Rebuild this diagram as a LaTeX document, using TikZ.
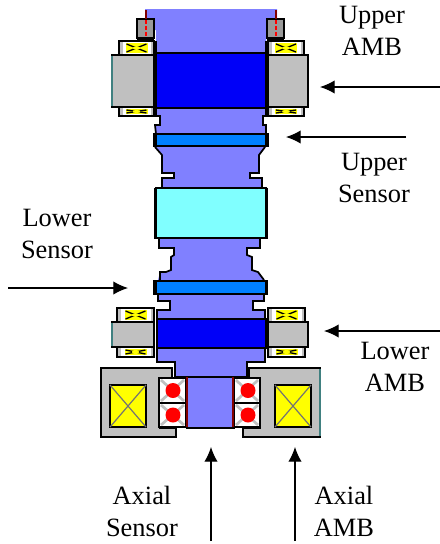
\documentclass[tikz,border=0pt]{standalone}
\usepackage{fontspec}
\setmainfont{Liberation Serif}
\usepackage{xcolor}
\usepackage{tikz}
\usetikzlibrary{arrows.meta, positioning, calc}

\definecolor{shaftblue}{HTML}{8080FF}
\definecolor{rotorblue}{HTML}{0000F8}
\definecolor{discblue}{HTML}{0080FF}
\definecolor{rotorcyan}{HTML}{80FFFF}
\definecolor{statorgray}{HTML}{C0C0C0}
\definecolor{coilyellow}{HTML}{FFFF00}
\definecolor{pinred}{HTML}{FF0000}
\definecolor{edgered}{HTML}{800000}
\definecolor{edgeteal}{HTML}{408080}

% #1,#2 = upper left corner, #3,#4 = lower right corner
\newcommand{\bearingbox}[4]{
    \draw [part, fill=white] (#1,#2) rectangle (#3,#4);
    \fill [statorgray] (#1+1,#2+1) rectangle (#1+3.5,#4-1);
    \fill [statorgray] (#3-3.5,#2+1) rectangle (#3-1,#4-1);
    \fill [coilyellow] ({(#1+#3)/2-11},#2+2) rectangle ({(#1+#3)/2+11},#4-2);
    \draw [thin part] ({(#1+#3)/2-10},#2+3) -- ({(#1+#3)/2+10},#4-3);
    \draw [thin part] ({(#1+#3)/2-10},#4-3) -- ({(#1+#3)/2+10},#2+3);
    \fill [coilyellow] ({(#1+#3)/2},{(#2+#4)/2}) ellipse (4 and 1.5);
}
% #1 = left edge, #2 = right edge, #3 = centre of the pin line
\newcommand{\pinblock}[3]{
    \draw [part, fill=statorgray!80!black] (#1,19) rectangle (#2,38);
    \fill [black] (#1,38) rectangle (#2,41);
    \draw [edgered, line width=1pt] (#3,10) -- (#3,19);
    \draw [pinred, line width=1.2pt, dash pattern=on 3pt off 1.5pt] (#3,20) -- (#3,38);
}
% #1 = left edge, #2 = right edge, #3 = top, #4 = bottom, #5 = centre of the ball
\newcommand{\ballcell}[5]{
    \draw [part, fill=white] (#1,#3) rectangle (#2,#4);
    \draw [statorgray, line width=2pt] (#1+2,#3+2) -- (#2-2,#4-2);
    \draw [statorgray, line width=2pt] (#2-2,#3+2) -- (#1+2,#4-2);
    \fill [pin] (#5,{(#3+#4)/2}) circle (7.5);
}

\begin{document}
\begin{tikzpicture}[
    x=0.75pt, y=-0.75pt,
    part/.style={draw=black, line width=1.3pt},
    thin part/.style={draw=black, line width=1pt},
    thickend/.style={fill=black},
    coilbox/.style={part, fill=coilyellow},
    pin/.style={fill=pinred},
    cross/.style={draw=black!55, line width=0.9pt},
    tag/.style={align=center, font=\fontsize{19.8}{24}\selectfont, inner sep=0pt},
    arrow/.style={line width=0.9pt, -{Latex[length=11pt, width=10pt]}}
]
\useasboundingbox (0,0) rectangle (440,544);

% Shaft
\fill [shaftblue] (145,9) -- (277,9) -- (277,30) -- (266,30) -- (266,116) -- (263,116) -- (263,125) -- (266,125)
    -- (266,147) -- (259,155) -- (259,173) -- (250,173) -- (250,178) -- (262,178) -- (262,188) -- (260,238)
    -- (260,248) -- (247,248) -- (247,255) -- (252,257) -- (252,270) -- (258,272) -- (264,280) -- (264,301)
    -- (253,301) -- (253,310) -- (265,310) -- (265,362) -- (247,362) -- (247,377) -- (233,377) -- (233,428)
    -- (188,428) -- (188,377) -- (175,377) -- (175,362) -- (157,362) -- (157,310) -- (170,310) -- (170,301)
    -- (158,301) -- (158,280) -- (160,272) -- (166,272) -- (171,270) -- (171,257) -- (174,255) -- (174,248)
    -- (159,248) -- (159,238) -- (162,188) -- (162,178) -- (174,178) -- (174,173) -- (162,173) -- (162,155)
    -- (155,147) -- (155,125) -- (160,125) -- (160,116) -- (156,116) -- (156,30) -- (145,30) -- cycle;
\draw [part] (266,41) -- (266,116) -- (263,116) -- (263,125) -- (266,125) -- (266,134);
\draw [part] (265,147) -- (259,155) -- (259,173) -- (250,173) -- (250,178) -- (262,178) -- (262,188);
\draw [part] (260,238) -- (260,248) -- (247,248) -- (247,255) -- (252,257) -- (252,270) -- (258,272) -- (264,280);
\draw [part] (264,294) -- (264,301) -- (253,301) -- (253,310) -- (265,310) -- (265,362) -- (247,362) -- (247,377);
\draw [part] (175,377) -- (175,362) -- (157,362) -- (157,310) -- (170,310) -- (170,301) -- (158,301) -- (158,294);
\draw [part] (160,280) -- (160,272) -- (166,272) -- (171,270) -- (171,257) -- (174,255) -- (174,248) -- (159,248) -- (159,238);
\draw [part] (162,188) -- (162,178) -- (174,178) -- (174,173) -- (162,173) -- (162,155) -- (155,147);
\draw [part] (156,134) -- (155,125) -- (160,125) -- (160,116) -- (156,116) -- (156,41);
\draw [part] (175,377) -- (247,377);

% Upper AMB
\pinblock{137}{154}{146}
\pinblock{267}{284}{276}
\bearingbox{119}{41}{154}{55}
\bearingbox{268}{41}{304}{55}
\bearingbox{119}{107}{154}{116}
\bearingbox{268}{107}{304}{116}
\draw [part, fill=statorgray] (112,55) rectangle (154,107);
\draw [part, fill=statorgray] (268,55) rectangle (308,107);
\draw [edgeteal, line width=0.8pt] (112,56) -- (112,106);
\draw [part, fill=rotorblue] (156,53) rectangle (266,108);

% Upper sensor
\fill [thickend] (153,133) rectangle (269,147);
\draw [part, fill=discblue] (156,134) rectangle (266,146);

% Middle rotor
\fill [thickend] (154,188) rectangle (268,239);
\draw [part, fill=rotorcyan] (156,188) rectangle (266,238);

% Lower sensor
\fill [thickend] (153,280) rectangle (268,295);
\draw [part, fill=discblue] (156,281) rectangle (266,294);

% Lower AMB
\bearingbox{117}{308}{154}{322}
\bearingbox{268}{308}{305}{322}
\bearingbox{117}{347}{154}{357}
\bearingbox{268}{347}{305}{357}
\draw [part, fill=statorgray] (112,322) rectangle (154,347);
\draw [part, fill=statorgray] (268,322) rectangle (308,347);
\draw [edgeteal, line width=1pt] (112,323) -- (112,346);
\draw [part, fill=rotorblue] (157,319) rectangle (266,348);

% Axial AMB
\draw [part, fill=statorgray] (101,368) -- (172,368) -- (172,378) -- (160,378) -- (160,428) -- (176,428) -- (176,437) -- (101,437) -- cycle;
\draw [part, fill=statorgray] (249,368) -- (320,368) -- (320,437) -- (243,437) -- (243,428) -- (260,428) -- (260,378) -- (249,378) -- cycle;
\draw [edgeteal, line width=1pt] (320,369) -- (320,436);
\draw [coilbox] (110,385) rectangle (146,427);
\draw [cross] (110,385) -- (146,427);
\draw [cross] (146,385) -- (110,427);
\draw [coilbox] (275,385) rectangle (311,427);
\draw [cross] (275,385) -- (311,427);
\draw [cross] (311,385) -- (275,427);

% Axial bearings
\ballcell{159}{186}{378}{403}{173}
\ballcell{159}{186}{403}{427}{173}
\ballcell{234}{260}{378}{403}{248}
\ballcell{234}{260}{403}{427}{248}
\draw [edgered, line width=1.3pt] (187,377) -- (187,428);
\draw [edgered, line width=1.3pt] (233,377) -- (233,428);
\draw [part] (186,428) -- (235,428);

% Labels
\node (upperamb) [tag] at (372,31) {Upper\\AMB};
\node (uppersensor) [tag] at (374,178) {Upper\\Sensor};
\node (lowersensor) [tag] at (57,234) {Lower\\Sensor};
\node (loweramb) [tag] at (395,367) {Lower\\AMB};
\node (axialsensor) [tag] at (142,511) {Axial\\Sensor};
\node (axialamb) [tag] at (344,511) {Axial\\AMB};

% Arrow ends
\coordinate (upperambtail) at (440,87);
\coordinate (upperambtip) at (320,87);
\coordinate (uppersensortail) at (406,137);
\coordinate (uppersensortip) at (286,137);
\coordinate (lowersensortail) at (8,288);
\coordinate (lowersensortip) at (128,288);
\coordinate (lowerambtail) at (440,331);
\coordinate (lowerambtip) at (324,331);
\coordinate (axialsensortail) at (211,541);
\coordinate (axialsensortip) at (211,447);
\coordinate (axialambtail) at (295,541);
\coordinate (axialambtip) at (295,447);

% Arrows
\draw [arrow] (upperambtail) -- (upperambtip);
\draw [arrow] (uppersensortail) -- (uppersensortip);
\draw [arrow] (lowersensortail) -- (lowersensortip);
\draw [arrow] (lowerambtail) -- (lowerambtip);
\draw [arrow] (axialsensortail) -- (axialsensortip);
\draw [arrow] (axialambtail) -- (axialambtip);

\end{tikzpicture}
\end{document}
